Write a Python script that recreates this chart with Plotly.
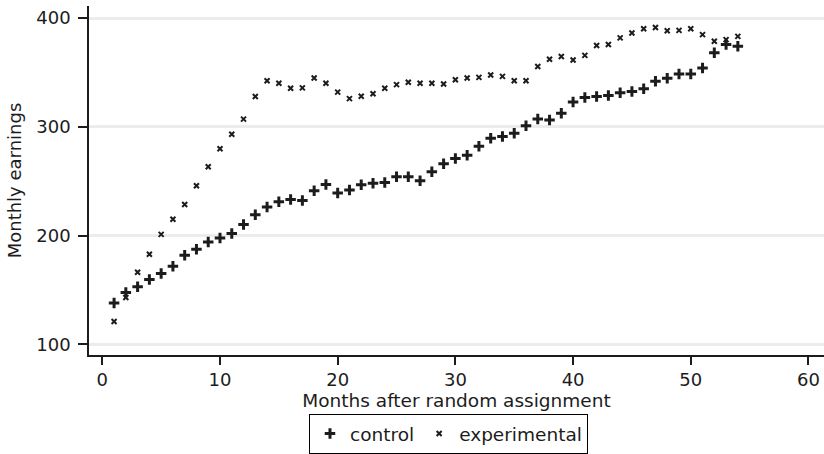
import plotly.graph_objects as go

# Monthly earnings by month after random assignment
months = list(range(1, 55))

control = [
    138, 147.7, 153, 159.8, 165.3, 171.9, 182.1, 187.6, 194.3, 197.9,
    202.1, 210.2, 219.3, 226.3, 231.1, 233.2, 232.3, 241.4, 247.1, 239.2,
    241.9, 246.8, 248.3, 248.9, 254.1, 254.1, 250.5, 258.9, 266.1, 270.9,
    274.0, 282.2, 289.7, 291.2, 294.2, 301.2, 307.2, 306.3, 312.7, 323.0,
    327.1, 328.0, 328.9, 331.4, 332.6, 335.0, 342.0, 344.7, 348.6, 348.6,
    354.3, 368.3, 375.8, 374.3,
]

experimental = [
    121.1, 143.1, 166.4, 183.0, 201.2, 215.1, 228.7, 245.9, 263.4, 280.0,
    293.3, 307.2, 328.0, 342.5, 340.2, 335.6, 335.9, 345.0, 340.2, 332.0,
    326.0, 328.2, 330.5, 335.6, 338.9, 341.1, 340.2, 340.2, 339.5, 343.4,
    345.0, 345.6, 347.7, 346.5, 342.5, 342.5, 355.6, 362.2, 364.7, 361.6,
    365.8, 374.9, 375.8, 381.9, 386.4, 390.3, 391.5, 388.5, 388.8, 390.3,
    384.9, 378.8, 380.3, 383.3,
]

x_ticks = [0, 10, 20, 30, 40, 50, 60]
y_ticks = [100, 200, 300, 400]

INK = "#1c1c1c"
FONT = "DejaVu Sans"

fig = go.Figure()
fig.add_trace(go.Scatter(
    x=months, y=control, mode="markers", name="control",
    marker=dict(symbol="cross-thin", size=7.5, color=INK,
                line=dict(color=INK, width=3)),
))
fig.add_trace(go.Scatter(
    x=months, y=experimental, mode="markers", name="experimental",
    marker=dict(symbol="x-thin", size=5, color=INK,
                line=dict(color=INK, width=2)),
))

fig.update_layout(
    width=824, height=454,
    margin=dict(l=89, r=0, t=6, b=94),
    paper_bgcolor="white", plot_bgcolor="white",
    font=dict(family=FONT, size=18, color=INK),
    showlegend=True,
    legend=dict(
        orientation="h", x=0.2993, xanchor="left", y=-0.170, yanchor="top",
        bordercolor="black", borderwidth=1, bgcolor="white",
        font=dict(family=FONT, size=18.5, color=INK),
        itemwidth=30, tracegroupgap=0,
    ),
)

fig.update_xaxes(
    range=[-1.13, 61.32], tickvals=x_ticks,
    showgrid=False, zeroline=False,
    showline=True, linecolor=INK, linewidth=1.5,
    ticks="outside", ticklen=8, tickwidth=1.5, tickcolor=INK,
    tickfont=dict(family=FONT, size=18, color=INK),
    title=dict(text="Months after random assignment", standoff=2,
               font=dict(family=FONT, size=18.5, color=INK)),
)
fig.update_yaxes(
    range=[90.3, 411.2], tickvals=y_ticks,
    showgrid=True, gridcolor="#ececec", gridwidth=2.5,
    zeroline=False,
    showline=True, linecolor=INK, linewidth=1.5,
    ticks="outside", ticklen=9, tickwidth=1.5, tickcolor=INK,
    ticklabelstandoff=4,
    tickfont=dict(family=FONT, size=18, color=INK),
    title=dict(text="Monthly earnings", standoff=10,
               font=dict(family=FONT, size=18, color=INK)),
)

fig.write_html("out.html")
